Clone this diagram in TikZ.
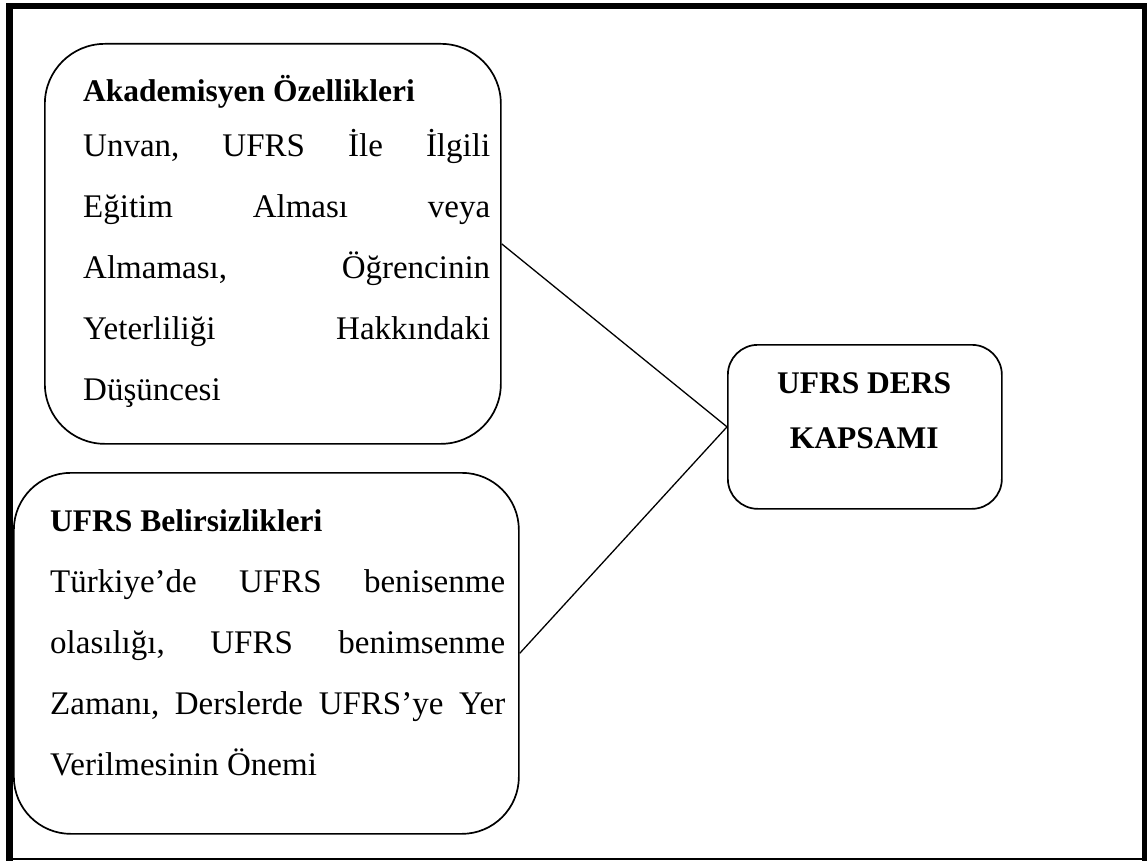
\documentclass[tikz,border=0pt]{standalone}
\usepackage{fontspec}
\setmainfont{Liberation Serif}
\newcommand\bodyfnt{\fontsize{33}{61}\selectfont}
\newcommand\headfnt{\fontsize{31.5}{55}\selectfont\bfseries}
\newcommand\jl[2]{\hbox to #1{#2}}
\begin{document}
\begin{tikzpicture}[x=1pt,y=-1pt,
  box/.style={draw, line width=1.7pt, inner sep=0pt, anchor=north west},
  link/.style={line width=1.3pt},
  txt/.style={inner sep=0pt, anchor=base west}]
\useasboundingbox (0,0) rectangle (1147,861);
% outer frame
\fill (6,3) rectangle (1147,9.5);
\fill (6,3) rectangle (12.5,861);
\fill (1141.5,3) rectangle (1147,861);
\draw[line width=1.5pt] (6,859) -- (1147,859);
% boxes
\node[box, rounded corners=60pt, minimum width=456pt, minimum height=400pt] (b1) at (44,43) {};
\node[box, rounded corners=57pt, minimum width=505pt, minimum height=361pt] (b2) at (13,472) {};
\node[box, rounded corners=30pt, minimum width=274pt, minimum height=164pt] (b3) at (727,344) {};
% texts
\node[txt] (t1) at (83,102) {\vtop{\hsize=407pt
  \hbox{\headfnt Akademisyen Özellikleri}
  \bodyfnt\baselineskip=55pt
  \jl{407pt}{Unvan,\hfill UFRS\hfill İle\hfill İlgili}
  \baselineskip=61pt
  \jl{407pt}{Eğitim\hfill Alması\hfill veya}
  \jl{407pt}{Almaması,\hfill Öğrencinin}
  \jl{407pt}{Yeterliliği\hfill Hakkındaki}
  \hbox{Düşüncesi}}};
\node[txt] (t2) at (50,531) {\vtop{\hsize=455pt
  \hbox{\headfnt UFRS Belirsizlikleri}
  \bodyfnt\baselineskip=61pt
  \jl{455pt}{Türkiye’de\hfill UFRS\hfill benisenme}
  \jl{455pt}{olasılığı,\hfill UFRS\hfill benimsenme}
  \jl{455pt}{Zamanı,\hfill Derslerde\hfill UFRS’ye\hfill Yer}
  \hbox{Verilmesinin Önemi}}};
\node[txt] (t3) at (727,393) {\vtop{\hsize=274pt
  \headfnt\baselineskip=55pt
  \jl{274pt}{\hfil UFRS DERS\hfil}
  \jl{274pt}{\hfil KAPSAMI\hfil}}};
% connectors
\draw[link] (b1.east) -- (b3.west);
\draw[link] (b2.east) -- (b3.west);
\end{tikzpicture}
\end{document}
